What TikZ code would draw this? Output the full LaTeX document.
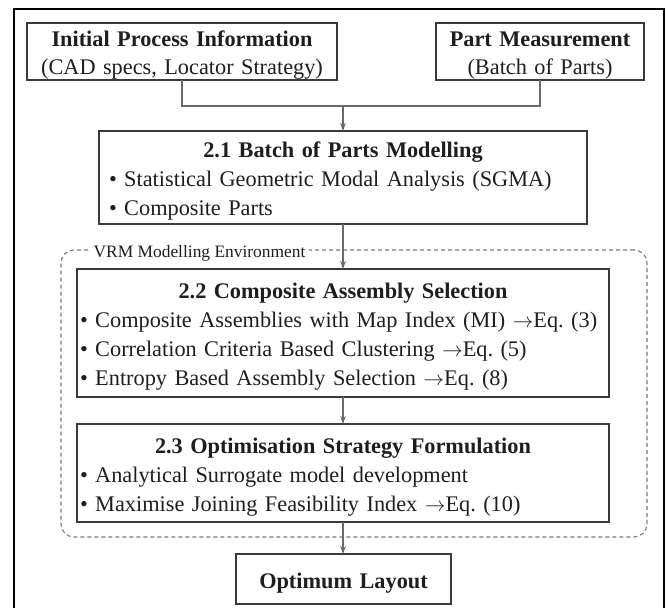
\documentclass[tikz,border=0pt]{standalone}
\usepackage{fontspec}
\setmainfont{Liberation Serif}
\usetikzlibrary{arrows.meta}
\definecolor{boxline}{HTML}{3A3A3A}
\definecolor{connline}{HTML}{6A6A6A}
\definecolor{envline}{HTML}{7A7A7A}
\definecolor{txt}{HTML}{1E1E1E}
\newcommand{\heading}[1]{\makebox[\linewidth][c]{\bfseries #1}}
\newcommand{\bul}[1]{\mbox{\textbullet\ #1}}
\frenchspacing
\begin{document}
\begin{tikzpicture}[x=1pt,y=-1pt,
  box/.style={draw=boxline, line width=1.2pt, outer sep=0pt, inner ysep=0pt,
    text=txt, align=left, anchor=north west,
    font=\fontsize{22.3}{29}\selectfont},
  cbox/.style={box, align=center, inner xsep=2pt},
  conn/.style={draw=connline, line width=1.1pt},
  arr/.style={conn, -{Stealth[length=8pt,width=5.5pt]}},
  env/.style={draw=envline, line width=1.1pt, dash pattern=on 4pt off 3pt,
    rounded corners=13pt, outer sep=0pt, inner sep=0pt, anchor=north west},
  envlab/.style={fill=white, text=txt, inner xsep=4pt, inner ysep=1pt,
    font=\fontsize{17.4}{20}\selectfont}
]
\useasboundingbox (0,0) rectangle (668,607);
% outer frame
\draw[line width=2pt, black] (14,620) -- (14,9) -- (664,9) -- (664,620);

% environment region
\node[env, minimum width=586pt, minimum height=287pt] (envr) at (61,250) {};
\node[envlab] (envl) at (199.5,253) {VRM Modelling Environment};

% top boxes
\node[cbox, text width=306pt, text height=24pt, text depth=33pt,
  font=\fontsize{22.3}{28}\selectfont] (b1) at (27,23)
  {\textbf{Initial Process Information}\\(CAD specs, Locator Strategy)};
\node[cbox, text width=204pt, text height=24pt, text depth=33pt,
  font=\fontsize{22.3}{28}\selectfont] (b2) at (436,23)
  {\textbf{Part Measurement}\\(Batch of Parts)};

% 2.1
\node[box, inner xsep=10pt, text width=468pt, text height=26pt, text depth=67pt] (b3) at (99,131)
  {\heading{2.1 Batch of Parts Modelling}\\
   \bul{Statistical Geometric Modal Analysis (SGMA)}\\
   \bul{Composite Parts}};

% 2.2
\node[box, inner xsep=3pt, text width=526pt, text height=29pt, text depth=99pt] (b4) at (77,269)
  {\heading{2.2 Composite Assembly Selection}\\
   \bul{Composite Assemblies with Map Index (MI) $\rightarrow$Eq. (3)}\\
   \bul{Correlation Criteria Based Clustering $\rightarrow$Eq. (5)}\\
   \bul{Entropy Based Assembly Selection $\rightarrow$Eq. (8)}};

% 2.3
\node[box, inner xsep=3pt, text width=526pt, text height=29pt, text depth=69pt] (b5) at (77,424)
  {\heading{2.3 Optimisation Strategy Formulation}\\
   \bul{Analytical Surrogate model development}\\
   \bul{Maximise Joining Feasibility Index $\rightarrow$Eq. (10)}};

% optimum layout
\node[cbox, text width=211pt, text height=34pt, text depth=16pt] (b6) at (236,554)
  {\textbf{Optimum Layout}};

% connectors
\coordinate (j) at (343,106);
\draw[conn] (b1.south) |- (j) -| (b2.south);
\draw[arr] (j) -- (b3.north);
\draw[arr] (b3.south) -- (b4.north);
\draw[arr] (b4.south) -- (b5.north);
\draw[arr] (b5.south) -- (b5.south |- b6.north);
\end{tikzpicture}
\end{document}
